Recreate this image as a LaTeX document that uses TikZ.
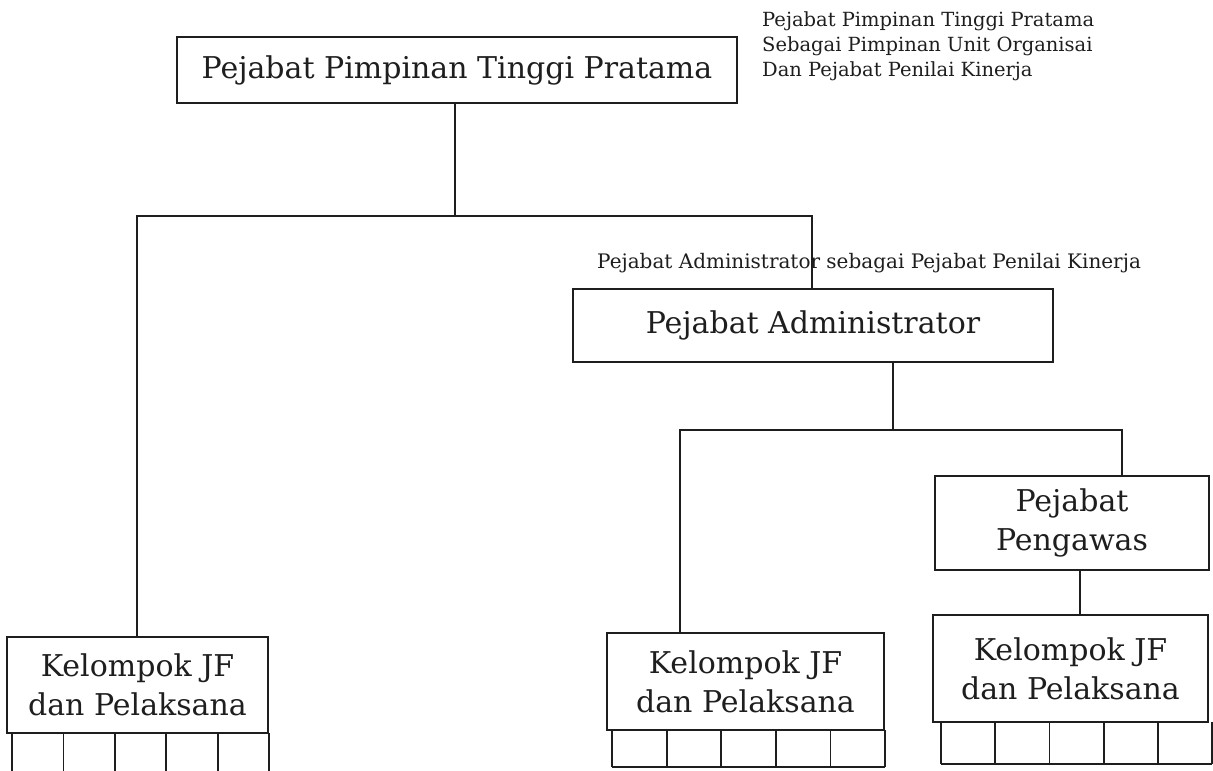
\documentclass[tikz,border=0pt]{standalone}
\usepackage{fontspec}
\setmainfont{DejaVu Serif}
\definecolor{ink}{HTML}{1E1E1E}
\begin{document}
\begin{tikzpicture}[x=1pt,y=-1pt, color=ink,
  box/.style={draw, line width=2pt, rectangle, inner sep=0pt, align=center,
    font=\fontsize{30}{39}\selectfont},
  link/.style={line width=2pt},
  cellrule/.style={line width=1.8pt},
  note/.style={inner sep=0pt, align=left, anchor=north west,
    font=\fontsize{19.5}{25}\selectfont}]
\useasboundingbox (0,0) rectangle (1213,771);

% boxes
\node[box, minimum width=560pt, minimum height=66pt] (top) at (457,70)
  {Pejabat Pimpinan Tinggi Pratama};
\node[box, minimum width=480pt, minimum height=73pt] (admin) at (813,325.5)
  {Pejabat Administrator};
\node[box, minimum width=274pt, minimum height=94pt] (peng) at (1072,523)
  {Pejabat\\Pengawas};
\node[box, minimum width=261pt, minimum height=96pt] (kjfa) at (137.5,685)
  {Kelompok JF\\dan Pelaksana};
\node[box, minimum width=277pt, minimum height=97pt] (kjfb) at (745.5,681.5)
  {Kelompok JF\\dan Pelaksana};
\node[box, minimum width=275pt, minimum height=107pt] (kjfc) at (1070.5,668.5)
  {Kelompok JF\\dan Pelaksana};

% annotations
\node[note] (notetop) at (762,11)
  {Pejabat Pimpinan Tinggi Pratama\\Sebagai Pimpinan Unit Organisai\\Dan Pejabat Penilai Kinerja};
\node[note, anchor=base west, font=\fontsize{20}{25}\selectfont] (noteadm) at (597,268)
  {Pejabat Administrator sebagai Pejabat Penilai Kinerja};

% junction points
\coordinate (j1) at (455,216);
\coordinate (j1l) at (137,216);
\coordinate (j1r) at (812,216);
\coordinate (j2) at (893,430);
\coordinate (j2l) at (680,430);
\coordinate (j2r) at (1122,430);
\coordinate (j3) at (1080,560);

% connectors
\draw[link] (top.south -| j1) -- (j1);
\draw[link] (kjfa.north -| j1l) -- (j1l) -- (j1r) -- (admin.north -| j1r);
\draw[link] (admin.south -| j2) -- (j2);
\draw[link] (kjfb.north -| j2l) -- (j2l) -- (j2r) -- (peng.north -| j2r);
\draw[link] (peng.south -| j3) -- (kjfc.north -| j3);

% cell rows under the groups
\foreach \i in {0,...,5} \draw[cellrule] ({12+\i*51.4},733) -- ({12+\i*51.4},775);
\foreach \i in {0,...,5} \draw[cellrule] ({612+\i*54.6},730) -- ({612+\i*54.6},767);
\draw[cellrule] (612,767) -- (885,767);
\foreach \i in {0,...,5} \draw[cellrule] ({941+\i*54.2},722) -- ({941+\i*54.2},764);
\draw[cellrule] (941,764) -- (1212,764);
\end{tikzpicture}
\end{document}
